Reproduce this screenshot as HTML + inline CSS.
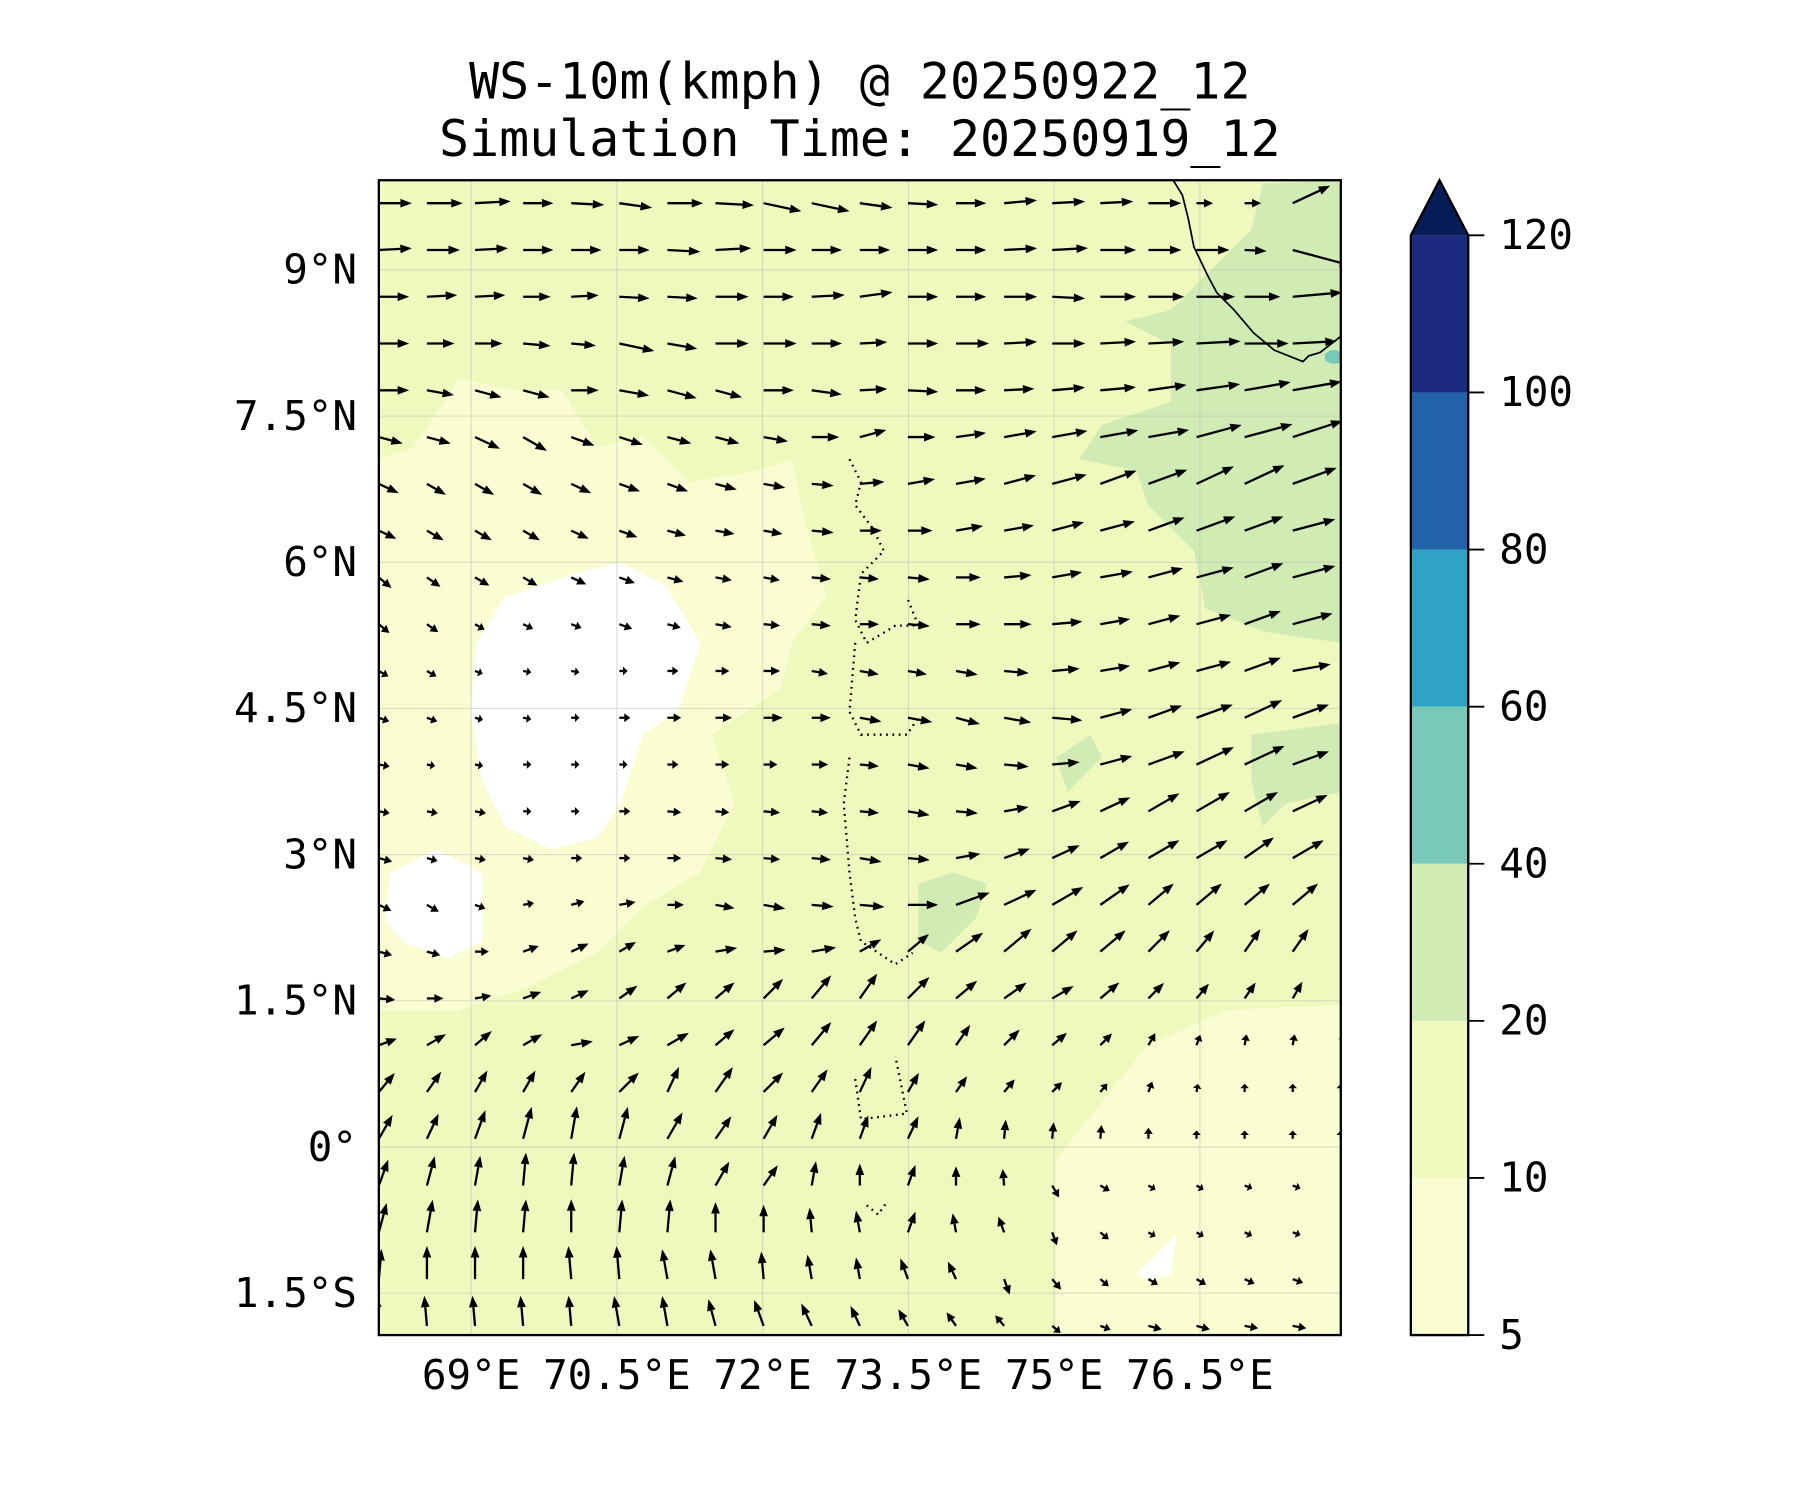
<!DOCTYPE html>
<html><head><meta charset="utf-8"><style>html,body{margin:0;padding:0;background:#fff}svg{display:block}text{font-family:"DejaVu Sans Mono","Liberation Mono",monospace;fill:#000}</style></head>
<body>
<svg id="chart" width="1800" height="1500" viewBox="0 0 1568 1306.67" xmlns="http://www.w3.org/2000/svg">
<text x="749" y="86" font-size="43.5" text-anchor="middle">WS-10m(kmph) @ 20250922_12</text>
<text x="749" y="136" font-size="43.5" text-anchor="middle">Simulation Time: 20250919_12</text>
<defs><clipPath id="pc"><rect x="330" y="157" width="838" height="1006"/></clipPath></defs>
<g id="map" clip-path="url(#pc)">
<rect x="330" y="157" width="838" height="1006" fill="#eff9bd"/>
<path fill="#fafdd1" d="M330,400 L360,390 L400,330 L450,340 L490,340 L520,390 L560,380 L600,420 L660,410 L690,400 L700,450 L720,520 L690,560 L680,600 L620,640 L640,700 L610,760 L560,790 L520,830 L460,860 L400,880 L330,880Z"/>
<path fill="#fafdd1" d="M920,1163 L920,1010 L960,960 L1000,910 L1070,880 L1168,875 L1168,1163Z"/>
<path fill="#ffffff" d="M415,560 L440,520 L500,500 L540,490 L580,510 L610,560 L590,620 L560,640 L540,700 L520,730 L480,740 L440,720 L420,680 L410,620Z M340,760 L380,740 L420,760 L420,820 L390,835 L350,820 L335,800Z M990,1110 L1010,1090 L1025,1075 L1020,1110 L1000,1115Z"/>
<path fill="#d0ecb4" d="M980,280 L1020,270 L1090,200 L1100,160 L1168,157 L1168,560 L1100,550 L1050,530 L1040,480 L1000,440 L990,410 L940,400 L960,370 L1020,350 L1020,300Z M1090,640 L1168,630 L1168,690 L1120,700 L1100,720 L1090,680Z M800,770 L830,760 L860,770 L850,800 L820,830 L800,820Z M920,660 L950,640 L960,660 L930,690Z"/>
<ellipse cx="1162" cy="311" rx="8" ry="6" fill="#79c9bb"/>
<g id="grid" stroke="#bbb" stroke-width="0.8" opacity="0.6"></g>
<path fill="none" stroke="#000" stroke-width="1.5" d="M1022,157 L1030,170 L1035,190 L1040,215 L1052,240 L1060,255 L1075,270 L1092,290 L1110,305 L1135,315 L1140,310 L1150,307 L1168,293"/>
<path fill="none" stroke="#000" stroke-width="2" stroke-dasharray="1.5,4" d="M740,400 L750,420 L745,440 L760,460 L770,480 L750,500 L745,540 L755,560 L780,545 L800,545 L790,520 M745,560 L740,620 L750,640 L790,640 L800,625 M740,660 L735,700 L740,760 L745,800 L750,820 L780,840 L795,830 M745,940 L750,975 L790,970 L780,920 M755,1050 L765,1058 L772,1048"/>
<g id="arrows"></g>
</g>
<rect x="330" y="157" width="838" height="1006" fill="none" stroke="#000" stroke-width="2"/>
<g id="axes"></g>
<g id="cbar"></g>
</svg>
<script>
const NS="http://www.w3.org/2000/svg";
const latTicks=[9,7.5,6,4.5,3,1.5,0,-1.5];
const latLabels=["9°N","7.5°N","6°N","4.5°N","3°N","1.5°N","0°","1.5°S"];
const lonTicks=[69,70.5,72,73.5,75,76.5];
const lonLabels=["69°E","70.5°E","72°E","73.5°E","75°E","76.5°E"];
const cbLevels=[5,10,20,40,60,80,100,120];
const cbColors=["#fafdd1","#eff9bd","#d0ecb4","#79c9bb","#2ea3c4","#2262a8","#1c2b7f"];
const cbExtendColor="#081d58";
const windDir=[
[0,0,3,0,-3,-8,0,-3,-12,-12,-8,-3,0,5,3,3,0,0,0,25,0],
[3,0,3,0,0,0,-3,3,0,0,0,0,0,3,3,0,0,0,-3,-15,10],
[0,3,3,0,3,-3,-3,0,0,3,8,0,0,0,-3,0,0,0,0,5,0],
[0,0,0,-5,-5,-12,-10,0,0,0,3,0,0,3,0,3,3,3,0,3,20],
[0,-10,-15,-15,0,-10,-15,-15,0,-8,3,-3,0,3,5,5,8,8,10,10,10],
[-15,-15,-25,-30,-20,-18,-15,-15,-10,0,15,0,8,10,10,10,10,15,15,18,15],
[-25,-30,-30,-30,-25,-20,-20,-15,-10,-5,5,10,10,15,15,20,20,25,25,20,10],
[-25,-30,-30,-30,-25,-20,-15,-10,-10,-5,0,0,10,10,15,15,20,20,20,15,10],
[-40,-35,-30,-30,-25,-20,-15,-10,-10,-5,-5,-5,0,5,10,10,15,15,20,15,15],
[-40,-35,-30,-25,-20,-20,-15,-10,-5,-5,0,-5,0,0,5,10,15,15,20,15,20],
[-30,-30,-20,-10,-10,0,0,0,0,-10,-10,-10,-10,-5,5,10,15,15,20,10,5],
[-20,-20,-15,-10,0,0,0,0,0,0,-10,-10,-15,-10,-5,15,20,20,25,20,20],
[-10,-10,-10,0,0,0,0,0,0,0,-5,-10,-10,-5,5,15,20,25,25,20,25],
[-10,-10,-10,0,0,0,-5,-5,-5,-5,-5,-10,-5,10,20,25,30,30,30,25,30],
[-15,-15,-10,-10,0,0,0,-5,-5,-5,-10,-5,10,20,25,30,30,30,35,30,40],
[-25,-30,-20,10,15,10,0,-10,-10,-5,-5,0,20,25,30,35,40,40,40,40,45],
[-15,-15,0,20,25,30,20,10,5,10,30,40,35,40,40,40,45,50,55,55,45],
[-5,0,10,20,25,35,40,40,45,50,55,45,40,35,30,40,45,50,55,60,45],
[20,30,40,30,10,25,30,40,40,50,55,55,55,45,40,45,60,70,80,80,70],
[50,55,60,60,55,45,65,55,45,55,65,60,55,50,45,50,70,80,90,90,90],
[60,65,70,75,80,75,60,55,60,70,70,65,80,85,85,85,90,90,90,90,90],
[70,75,80,85,85,80,75,60,55,80,90,70,90,95,-60,-30,-30,-30,-20,-20,-10],
[75,80,85,85,90,85,85,90,90,95,100,70,100,110,-70,-40,-30,-30,-25,-20,-20],
[85,90,90,90,95,95,100,100,95,100,100,110,115,-70,-50,-40,-30,-30,-25,-20,-20],
[95,95,95,95,95,100,100,105,110,115,115,120,125,130,-40,-20,-15,-15,-10,-10,-10]];
const windSpd=[
[12,13,13,11,12,12,13,14,14,14,12,11,11,12,12,12,12,6,6,15,2],
[12,12,12,11,11,11,12,13,12,11,11,11,11,12,13,13,12,12,8,22,4],
[11,11,11,10,10,11,11,12,11,12,12,11,11,12,12,13,13,14,13,18,4],
[11,10,10,10,9,13,11,12,12,11,10,11,12,12,12,13,13,16,16,16,4],
[11,10,10,10,10,11,11,10,11,11,10,11,11,11,12,13,14,16,17,18,10],
[9,9,10,10,9,9,9,9,9,10,10,10,11,12,13,14,15,17,18,19,10],
[8,8,8,8,8,8,8,8,8,8,9,10,11,12,13,14,15,15,16,17,10],
[7,7,7,7,7,7,7,7,7,8,8,9,10,11,12,13,14,15,15,16,8],
[6,6,6,6,6,6,6,6,6,7,7,8,9,10,11,12,13,14,15,16,8],
[5,5,4,4,4,5,5,6,6,7,7,8,9,10,11,11,12,13,14,15,8],
[4,4,3,3,3,3,4,5,6,6,7,7,8,9,10,11,12,13,14,14,8],
[4,4,3,3,3,4,5,6,7,7,8,9,9,10,11,12,13,14,15,14,8],
[4,3,3,3,3,3,4,5,5,6,7,8,8,9,10,12,14,15,16,14,8],
[4,4,4,3,3,4,5,5,6,6,7,8,8,9,11,12,13,14,14,14,8],
[5,4,4,4,4,4,5,6,6,7,8,8,9,10,11,12,13,13,13,13,8],
[5,5,4,4,5,6,6,7,8,8,9,11,13,13,13,13,12,12,12,12,10],
[5,5,5,6,7,7,7,8,8,9,9,10,12,13,12,12,11,10,10,10,10],
[6,6,6,7,7,8,9,9,10,11,11,11,10,10,9,9,8,7,7,7,7],
[7,8,8,8,8,8,9,9,10,11,11,11,9,8,7,6,5,4,4,4,4],
[9,9,9,9,9,10,10,11,10,10,10,8,7,6,5,4,4,3,3,3,3],
[10,10,11,12,12,12,11,10,10,10,9,9,8,7,6,5,4,3,3,3,3],
[10,11,11,12,12,11,11,10,9,9,8,8,7,6,5,4,3,3,3,3,3],
[11,12,12,12,12,12,12,11,10,9,8,8,7,6,5,4,3,3,3,3,3],
[11,12,12,12,12,12,11,11,10,9,8,8,7,6,5,4,4,4,4,4,4],
[11,11,11,11,11,11,11,10,10,9,8,7,6,5,4,4,5,5,5,5,5]];

const X0=330,X1=1168,Y0=157,Y1=1163;
const lonMin=68.05,lonMax=77.95,latMin=-1.93,latMax=9.92;
const xS=lon=>X0+(lon-lonMin)/(lonMax-lonMin)*(X1-X0);
const yS=lat=>Y1-(lat-latMin)/(latMax-latMin)*(Y1-Y0);
function mk(tag,attrs,parent){const e=document.createElementNS(NS,tag);for(const k in attrs)e.setAttribute(k,attrs[k]);parent.appendChild(e);return e;}

const grid=document.getElementById('grid');
latTicks.forEach(t=>{const l=mk('line',{x1:X0,x2:X1,y1:yS(t),y2:yS(t)},grid);

});
lonTicks.forEach(t=>{const l=mk('line',{x1:xS(t),x2:xS(t),y1:Y0,y2:Y1},grid);

});

const axes=document.getElementById('axes');
latTicks.forEach((t,i)=>{const e=mk('text',{x:311,y:yS(t)+12,'font-size':35.6,'text-anchor':'end'},axes);e.textContent=latLabels[i];

});
lonTicks.forEach((t,i)=>{const e=mk('text',{x:xS(t),y:1210,'font-size':35.6,'text-anchor':'middle'},axes);e.textContent=lonLabels[i];

});

const ag=document.getElementById('arrows');
const nR=windDir.length,nC=windDir[0].length;
const colStep=(X1-X0)/(nC-1),rowTop=177,rowStep=(1155-177)/(nR-1);
const lenScale=2.4;
for(let r=0;r<nR;r++)for(let c=0;c<nC;c++){
 const x=X0+c*colStep,y=rowTop+r*rowStep;
 const a=windDir[r][c]*Math.PI/180,L=windSpd[r][c]*lenScale;
 const dx=Math.cos(a),dy=-Math.sin(a);
 const hl=Math.min(10,L*0.55),hw=3.8;
 const ex=x+dx*L,ey=y+dy*L,bx=ex-dx*hl,by=ey-dy*hl;
 const g=mk('g',{},ag);
 
 
 mk('line',{x1:x,y1:y,x2:bx,y2:by,stroke:'#000','stroke-width':2},g);
 mk('polygon',{points:`${ex},${ey} ${bx-dy*hw},${by+dx*hw} ${bx+dy*hw},${by-dx*hw}`,fill:'#000'},g);
}

const cb=document.getElementById('cbar');
const CX0=1229,CX1=1279,CB0=1163,CB1=205;
const cy=i=>CB0-i*(CB0-CB1)/(cbLevels.length-1);
cbColors.forEach((col,i)=>{const r=mk('rect',{x:CX0,y:cy(i+1),width:CX1-CX0,height:cy(i)-cy(i+1),fill:col},cb);

});
const tri=mk('polygon',{points:`${CX0},${CB1} ${(CX0+CX1)/2},157 ${CX1},${CB1}`,fill:cbExtendColor},cb);


mk('path',{d:`M${CX0},${CB0} L${CX0},${CB1} L${(CX0+CX1)/2},157 L${CX1},${CB1} L${CX1},${CB0}Z`,fill:'none',stroke:'#000','stroke-width':2},cb);
cbLevels.forEach((v,i)=>{mk('line',{x1:CX1,x2:CX1+14,y1:cy(i),y2:cy(i),stroke:'#000','stroke-width':1.6},cb);
 const t=mk('text',{x:1306,y:cy(i)+12,'font-size':35.6},cb);t.textContent=v;
 
 });
</script>
</body></html>
